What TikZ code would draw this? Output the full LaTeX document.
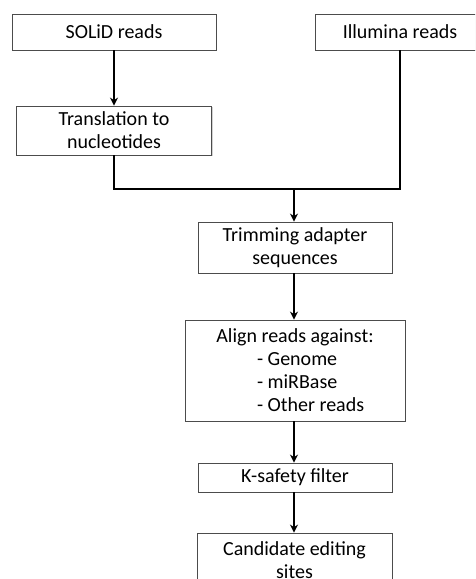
\documentclass[tikz,border=0pt]{standalone}
\usepackage{fontspec}
\setmainfont{Carlito}
\usetikzlibrary{arrows.meta,shadows}
\begin{document}
\begin{tikzpicture}[x=1pt,y=-1pt,
  stepbox/.style={draw=black!70, line width=0.8pt, fill=white, rectangle, inner sep=0pt,
    align=center, font=\fontsize{20}{23}\selectfont,
    drop shadow={shadow xshift=1.2pt, shadow yshift=-1.2pt, fill=black!30, opacity=0.6}},
  conn/.style={line width=1.6pt, black},
  arr/.style={conn, -{Stealth[length=8pt,width=8pt,inset=2.5pt]}}]
\useasboundingbox (0,0) rectangle (475,579);
\clip (0,0) rectangle (475,579);
\node[stepbox, minimum width=204pt, minimum height=36pt] (solid) at (114,32) {SOLiD reads};
\node[stepbox, minimum width=170pt, minimum height=36pt] (illum) at (400,32) {Illumina reads};
\node[stepbox, minimum width=195pt, minimum height=49pt] (trans) at (114,130.5) {Translation to\\nucleotides};
\node[stepbox, minimum width=194pt, minimum height=51pt] (trim) at (295,247.5) {Trimming adapter\\sequences};
\node[stepbox, minimum width=220pt, minimum height=101pt] (align) at (295,370.5)
  {Align reads against:\\\makebox[76pt][l]{- Genome}\\\makebox[76pt][l]{- miRBase}\\\makebox[76pt][l]{- Other reads}};
\node[stepbox, minimum width=194pt, minimum height=29pt] (kfilt) at (295,477.5) {K-safety filter};
\node[stepbox, minimum width=195pt, minimum height=54pt] (cand) at (294.5,560) {Candidate editing\\sites};
\coordinate (merge) at (294,189);
\draw[arr] (solid) -- (trans);
\draw[conn] (trans.south) -- (trans.south |- merge) -- (illum.south |- merge) -- (illum.south);
\draw[arr] (merge) -- (trim.north -| merge);
\draw[arr] (trim.south -| merge) -- (align.north -| merge);
\draw[arr] (align.south -| merge) -- (kfilt.north -| merge);
\draw[arr] (kfilt.south -| merge) -- (cand.north -| merge);
\end{tikzpicture}
\end{document}
